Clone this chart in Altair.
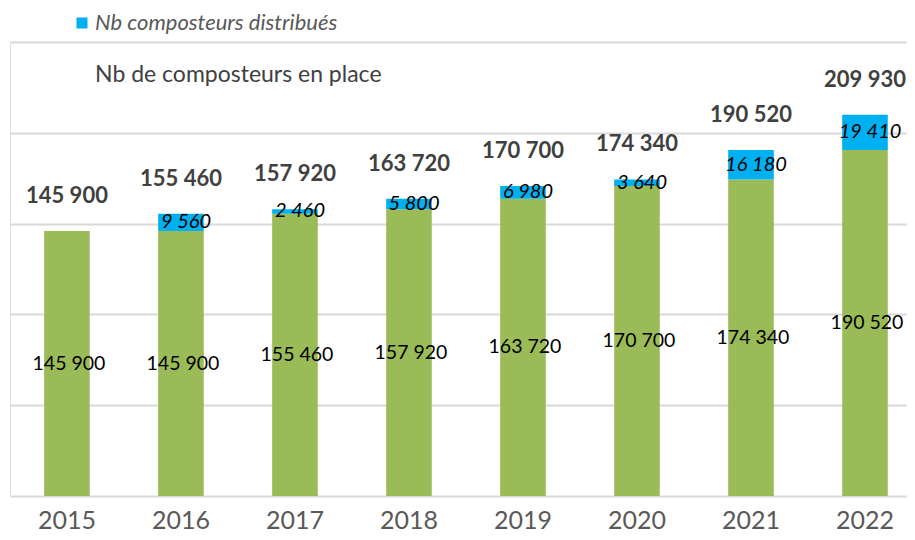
import altair as alt
import pandas as pd

years = ["2015", "2016", "2017", "2018", "2019", "2020", "2021", "2022"]
en_place = [145900, 145900, 155460, 157920, 163720, 170700, 174340, 190520]
distribues = [0, 9560, 2460, 5800, 6980, 3640, 16180, 19410]
totals = [145900, 155460, 157920, 163720, 170700, 174340, 190520, 209930]

legend_blue = "Nb composteurs distribués"
legend_green = "Nb de composteurs en place"

GREEN = "#9BBB59"
BLUE = "#00B0F0"
FONT = "Lato"


def fmt(v):
    return f"{v:,}".replace(",", " ")


df = pd.DataFrame({
    "year": years,
    "en_place": en_place,
    "distribues": distribues,
    "total": totals,
    "lbl_green": [fmt(v) for v in en_place],
    "lbl_blue": [fmt(v) if v > 0 else "" for v in distribues],
    "lbl_total": [fmt(v) for v in totals],
})

x = alt.X("year:N", title=None, sort=years,
          scale=alt.Scale(paddingInner=0.6, paddingOuter=0.234, align=0.64),
          axis=alt.Axis(labelAngle=0, domain=False, ticks=False, labelPadding=12,
                        labelFont=FONT, labelFontSize=25, labelColor="#595959"))
yscale = alt.Scale(domain=[0, 250000], nice=False)
yaxis = alt.Axis(values=[0, 50000, 100000, 150000, 200000, 250000], labels=False,
                 ticks=False, domain=False, title=None, grid=True,
                 gridColor="#d9d9d9", gridWidth=2)

base = alt.Chart(df)

green = base.mark_bar(color=GREEN).encode(
    x=x, y=alt.Y("en_place:Q", scale=yscale, axis=yaxis))

blue = base.mark_bar(color=BLUE).encode(
    x=x, y=alt.Y("en_place:Q", scale=yscale), y2="total:Q")

green_lbl = base.transform_calculate(mid="datum.en_place / 2").mark_text(
    font=FONT, fontSize=19.5, color="#000000", baseline="middle", dx=2
).encode(x=x, y=alt.Y("mid:Q", scale=yscale), text="lbl_green:N")

blue_lbl = base.transform_filter("datum.distribues > 0").transform_calculate(
    mid="(datum.en_place + datum.total) / 2").mark_text(
    font=FONT, fontSize=20, fontStyle="italic", color="#000000", baseline="middle", dx=5
).encode(x=x, y=alt.Y("mid:Q", scale=yscale), text="lbl_blue:N")

total_lbl = base.mark_text(
    font=FONT, fontSize=22, fontWeight="bold", color="#404040", baseline="middle", dy=-35
).encode(x=x, y=alt.Y("total:Q", scale=yscale), text="lbl_total:N")

leg_sq = alt.Chart(pd.DataFrame({"t": [legend_blue]})).mark_square(
    size=121, color=BLUE, opacity=1
).encode(x=alt.value(72), y=alt.value(-19))

leg_txt = alt.Chart(pd.DataFrame({"t": [legend_blue]})).mark_text(
    font=FONT, fontSize=22, fontStyle="italic", color="#595959", align="left", baseline="middle"
).encode(x=alt.value(85), y=alt.value(-19), text="t:N")

title_txt = alt.Chart(pd.DataFrame({"t": [legend_green]})).mark_text(
    font=FONT, fontSize=23, color="#404040", align="left", baseline="middle"
).encode(x=alt.value(85), y=alt.value(33), text="t:N")

chart = alt.layer(
    green, blue, green_lbl, blue_lbl, total_lbl, leg_sq, leg_txt, title_txt
).properties(
    width=897, height=454,
    autosize=alt.AutoSizeParams(type="none"),
    padding={"left": 2, "top": 34, "right": 0, "bottom": 36},
).configure_view(stroke=None).configure(background="white")

chart.save("out.html", embed_options={"renderer": "svg", "actions": False})
